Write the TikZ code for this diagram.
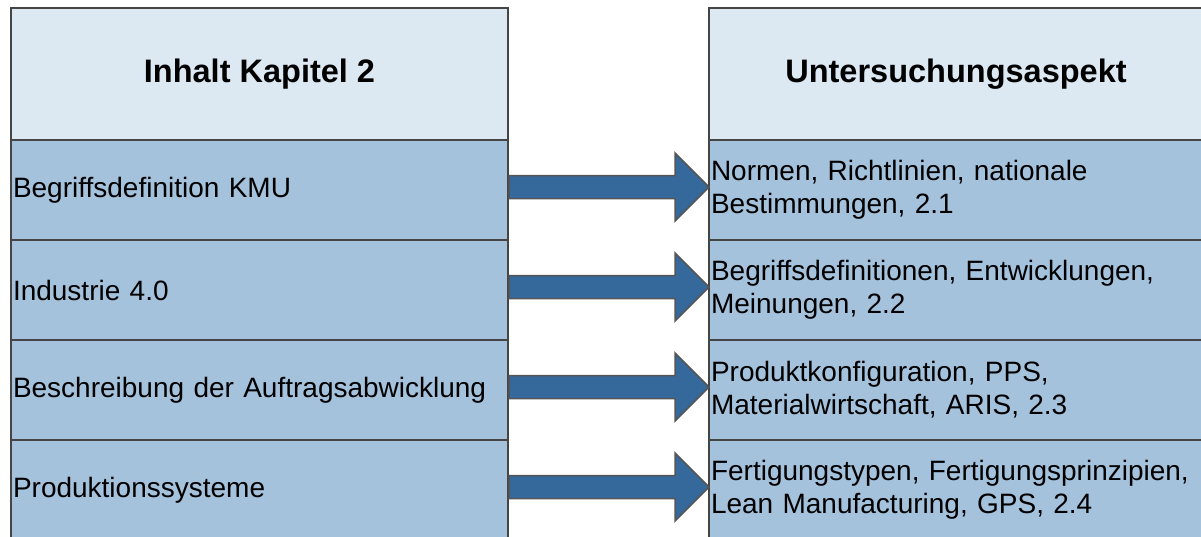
\documentclass[tikz,border=0pt]{standalone}
\usepackage{fontspec}
\setmainfont{Liberation Sans}
\usetikzlibrary{calc}
\definecolor{hdr}{HTML}{DCE8F2}
\definecolor{rowc}{HTML}{A5C2DD}
\definecolor{bord}{HTML}{454545}
\definecolor{arr}{HTML}{35699B}
\definecolor{arrline}{HTML}{555555}
\newcommand\rowarrow[2]{%
  \draw[bigarrow] ($(#1.east)+(1,-14.5)$) -- ($(#2.west)+(-34,-14.5)$) -- ($(#2.west)+(-34,-37)$)
    -- ($(#2.west)+(0,-3)$) -- ($(#2.west)+(-34,31)$) -- ($(#2.west)+(-34,8.5)$)
    -- ($(#1.east)+(1,8.5)$) -- cycle;}
\begin{document}
\begin{tikzpicture}[x=1pt,y=-1pt,
  cell/.style={draw=bord, line width=2pt, outer sep=0pt, inner ysep=0pt, minimum height=100pt,
    fill=rowc, font=\fontsize{28}{33}\selectfont, align=left, inner xsep=2pt},
  lcell/.style={cell, text width=493pt},
  rcell/.style={cell, text width=490pt},
  head/.style={draw=bord, line width=2pt, outer sep=0pt, fill=hdr, minimum height=132pt,
    font=\fontsize{32.5}{38}\selectfont\bfseries, align=center},
  bigarrow/.style={draw=arrline, line width=1.5pt, fill=arr, line join=miter}]
\useasboundingbox (0,0) rectangle (1201,536);
\clip (0,0) rectangle (1201,536);
% headers
\node[head, minimum width=497pt] (lh) at (259.5,74) {Inhalt Kapitel 2};
\node[head, minimum width=494pt] (rh) at (956,74) {Untersuchungsaspekt};
% left column
\node[lcell] (l1) at (259.5,190) {Begriffsdefinition KMU};
\node[lcell] (l2) at (259.5,290) {Industrie 4.0};
\node[lcell] (l3) at (259.5,390) {Beschreibung der Auftragsabwicklung};
\node[lcell] (l4) at (259.5,490) {Produktionssysteme};
% right column
\node[rcell] (r1) at (956,190) {Normen, Richtlinien, nationale\\Bestimmungen, 2.1};
\node[rcell] (r2) at (956,290) {Begriffsdefinitionen, Entwicklungen,\\Meinungen, 2.2};
\node[rcell] (r3) at (956,390) {Produktkonfiguration, PPS,\\Materialwirtschaft, ARIS, 2.3};
\node[rcell] (r4) at (956,490) {Fertigungstypen, Fertigungsprinzipien,\\Lean Manufacturing, GPS, 2.4};
% arrows
\rowarrow{l1}{r1}
\rowarrow{l2}{r2}
\rowarrow{l3}{r3}
\rowarrow{l4}{r4}
\end{tikzpicture}
\end{document}
